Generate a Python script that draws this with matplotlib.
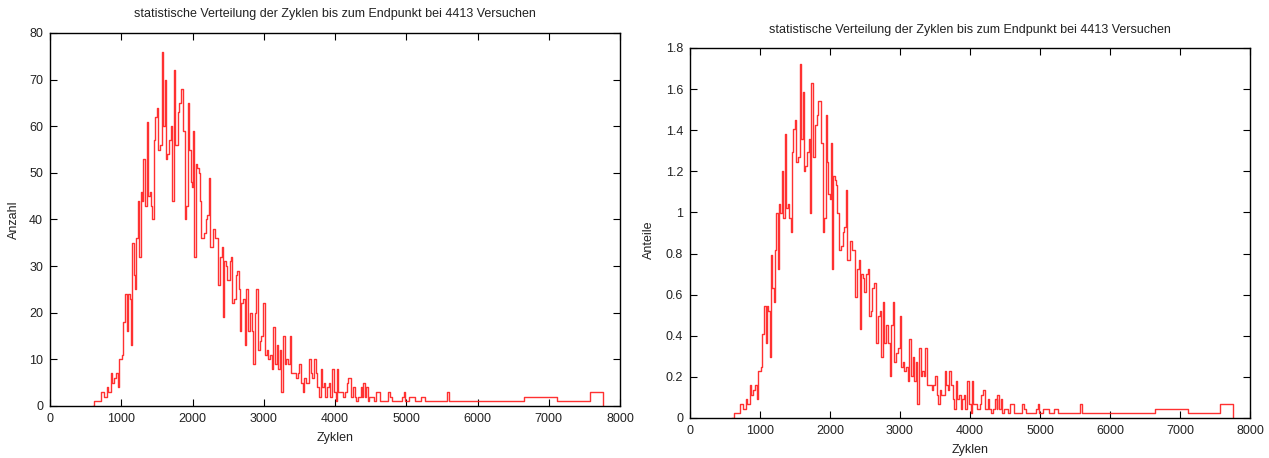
import matplotlib
matplotlib.use("Agg")
import matplotlib.pyplot as plt
import numpy as np

plt.rcParams['font.family'] = ['Liberation Sans', 'DejaVu Sans']

# Step positions (cycles) and counts
zyklen = [600, 624, 716, 762, 796, 819, 853, 876, 899, 933, 956, 974, 1013, 1031, 1059,
          1082, 1100, 1117, 1140, 1151, 1174, 1197, 1214, 1231, 1254, 1271, 1289, 1311,
          1334, 1357, 1374, 1397, 1420, 1437, 1455, 1478, 1495, 1518, 1546, 1569, 1592,
          1615, 1632, 1649, 1672, 1695, 1718, 1735, 1758, 1792, 1815, 1833, 1873, 1896,
          1913, 1936, 1953, 1976, 1993, 2010, 2027, 2045, 2067, 2085, 2102, 2125, 2159,
          2188, 2205, 2228, 2245, 2285, 2314, 2354, 2388, 2411, 2428, 2445, 2474, 2491,
          2520, 2537, 2554, 2583, 2606, 2629, 2652, 2663, 2686, 2709, 2732, 2755, 2778,
          2806, 2829, 2852, 2875, 2898, 2921, 2944, 2967, 2995, 3018, 3041, 3064, 3087,
          3110, 3133, 3156, 3179, 3202, 3224, 3247, 3270, 3293, 3316, 3339, 3362, 3385,
          3453, 3476, 3499, 3522, 3545, 3568, 3591, 3637, 3659, 3682, 3705, 3728, 3751,
          3774, 3797, 3820, 3843, 3866, 3889, 3912, 3935, 3957, 3980, 4009, 4026, 4049,
          4106, 4141, 4164, 4186, 4221, 4255, 4278, 4301, 4324, 4358, 4381, 4392, 4415,
          4438, 4461, 4484, 4542, 4576, 4633, 4748, 4771, 4794, 4942, 4965, 4988, 5045,
          5126, 5206, 5263, 5578, 5595, 6649, 7118, 7577, 7760]
anzahl = [0, 1, 3, 2, 4, 3, 7, 5, 6, 7, 4, 10, 11, 18, 24,
          16, 24, 23, 13, 35, 28, 25, 36, 44, 32, 46, 44, 53,
          43, 61, 45, 46, 43, 40, 57, 62, 64, 55, 56, 76, 60,
          70, 53, 54, 57, 60, 44, 72, 56, 63, 65, 68, 59, 40,
          43, 65, 55, 48, 47, 59, 32, 52, 51, 50, 44, 36, 37,
          40, 41, 49, 34, 38, 36, 26, 32, 34, 19, 31, 30, 27,
          31, 32, 22, 23, 28, 29, 25, 16, 22, 23, 13, 25, 16,
          20, 16, 9, 20, 25, 12, 14, 15, 22, 11, 12, 10, 11,
          8, 17, 9, 13, 8, 12, 3, 15, 9, 10, 9, 15, 7,
          6, 7, 9, 5, 3, 6, 5, 10, 7, 6, 10, 7, 4,
          2, 8, 4, 5, 2, 4, 5, 2, 8, 3, 1, 8, 3,
          2, 3, 5, 6, 2, 4, 2, 1, 2, 4, 2, 5, 2,
          4, 1, 2, 1, 3, 1, 3, 2, 1, 2, 3, 1, 2,
          1, 2, 1, 3, 1, 2, 1, 3, 0]
versuche = 4413

titel = "statistische Verteilung der Zyklen bis zum Endpunkt bei 4413 Versuchen"
x_ticks = [0, 1000, 2000, 3000, 4000, 5000, 6000, 7000, 8000]
y_ticks_left = [0, 10, 20, 30, 40, 50, 60, 70, 80]
y_ticks_right = [0, 0.2, 0.4, 0.6, 0.8, 1.0, 1.2, 1.4, 1.6, 1.8]
y_labels_right = ["0", "0.2", "0.4", "0.6", "0.8", "1", "1.2", "1.4", "1.6", "1.8"]

anteile = [a / versuche * 100 for a in anzahl]

W, H = 1269, 458
fig = plt.figure(figsize=(W / 100, H / 100), dpi=100)
fs = 9
red = "#ff1a1a"

def style(ax):
    ax.tick_params(direction="in", length=5, width=0.8, top=True, right=True,
                   labelsize=fs, pad=5, colors="black", labelcolor="#222222")
    for s in ax.spines.values():
        s.set_linewidth(1.0)
        s.set_color("black")

# Left chart
ax1 = fig.add_axes([50 / W, 1 - 406 / H, 570 / W, 373 / H])
ax1.step(zyklen, anzahl, where="post", color=red, lw=1.0, alpha=0.9)
ax1.set_xlim(0, 8000)
ax1.set_ylim(0, 80)
ax1.set_xticks(x_ticks)
ax1.set_yticks(y_ticks_left)
style(ax1)
fig.text(335 / W, 1 - 14 / H, titel, ha="center", va="center", fontsize=fs, color="#222222")
fig.text(335 / W, 1 - 438 / H, "Zyklen", ha="center", va="center", fontsize=fs, color="#222222")
fig.text(14 / W, 1 - 220 / H, "Anzahl", ha="center", va="center", rotation=90, fontsize=fs, color="#222222")

# Right chart
ax2 = fig.add_axes([690 / W, 1 - 418 / H, 560 / W, 370 / H])
ax2.step(zyklen, anteile, where="post", color=red, lw=1.0, alpha=0.9)
ax2.set_xlim(0, 8000)
ax2.set_ylim(0, 1.8)
ax2.set_xticks(x_ticks)
ax2.set_yticks(y_ticks_right)
ax2.set_yticklabels(y_labels_right)
style(ax2)
fig.text(970 / W, 1 - 30 / H, titel, ha="center", va="center", fontsize=fs, color="#222222")
fig.text(970 / W, 1 - 450 / H, "Zyklen", ha="center", va="center", fontsize=fs, color="#222222")
fig.text(649 / W, 1 - 240 / H, "Anteile", ha="center", va="center", rotation=90, fontsize=fs, color="#222222")

fig.savefig("out.png", dpi=100, facecolor="white")
